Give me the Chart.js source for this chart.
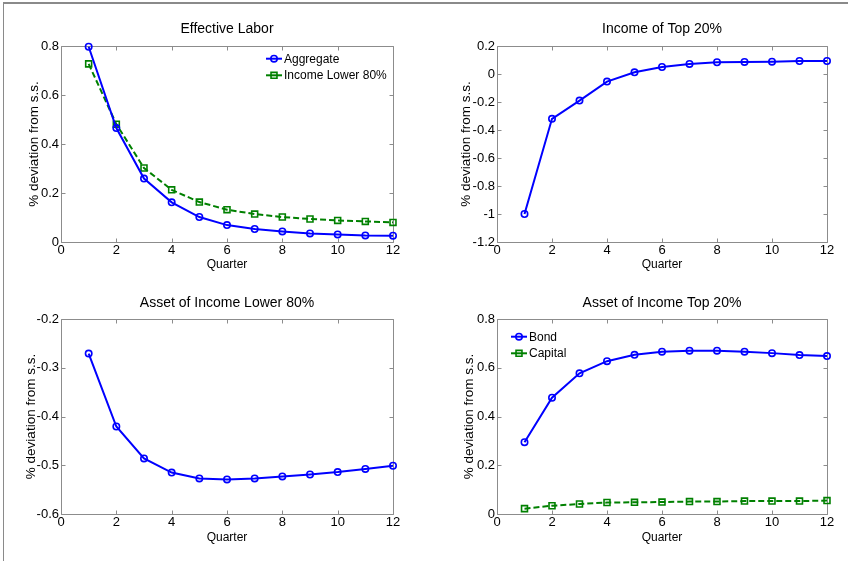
<!DOCTYPE html>
<html><head><meta charset="utf-8">
<script src="https://cdn.jsdelivr.net/npm/chart.js@4.4.1/dist/chart.umd.min.js"></script>
<style>
html,body{margin:0;padding:0;background:#fff;}
#wrap{position:relative;width:848px;height:561px;overflow:hidden;background:#fff;}
#frame{position:absolute;left:3px;top:2px;right:-5px;bottom:-5px;border-top:2px solid #8a8a8a;border-left:1px solid #8a8a8a;}
canvas{position:absolute;}
</style></head><body>
<div id="wrap"><div id="frame"></div>
<canvas id="c1" width="424" height="280" style="left:0;top:0"></canvas>
<canvas id="c2" width="424" height="280" style="left:424px;top:0"></canvas>
<canvas id="c3" width="424" height="281" style="left:0;top:280px"></canvas>
<canvas id="c4" width="424" height="281" style="left:424px;top:280px"></canvas>
</div>
<script>
// ---- data ----
const quarters = [1,2,3,4,5,6,7,8,9,10,11,12];
const laborAggregate = [0.797,0.465,0.259,0.162,0.102,0.069,0.053,0.043,0.035,0.031,0.027,0.026];
const laborLower80 = [0.727,0.481,0.302,0.213,0.163,0.132,0.114,0.102,0.094,0.088,0.084,0.080];
const incomeTop20 = [-1.0,-0.32,-0.19,-0.054,0.012,0.05,0.072,0.084,0.086,0.088,0.093,0.093];
const assetLower80 = [-0.271,-0.4205,-0.486,-0.515,-0.527,-0.529,-0.527,-0.523,-0.519,-0.514,-0.5075,-0.501];
const bondTop20 = [0.2945,0.477,0.577,0.627,0.653,0.666,0.670,0.670,0.666,0.660,0.652,0.648];
const capitalTop20 = [0.022,0.034,0.041,0.047,0.048,0.049,0.051,0.051,0.053,0.053,0.053,0.055];
const xTicks = [0,12,2];            // min, max, step
const yTicksLabor = [0,0.8,0.2];
const yTicksIncome = [-1.2,0.2,0.2];
const yTicksAssetLower = [-0.6,-0.2,0.1];
const yTicksAssetTop = [0,0.8,0.2];
const titles = ['Effective Labor','Income of Top 20%','Asset of Income Lower 80%','Asset of Income Top 20%'];
const xAxisLabel = 'Quarter';
const yAxisLabel = '% deviation from s.s.';

const FONT = '"Liberation Sans", Arial, Helvetica, sans-serif';
Chart.defaults.color = '#000';
Chart.defaults.font.family = FONT;

const BLUE = '#0000ff', GREEN = '#008000';

function pts(ys){ return quarters.map((q,i)=>({x:q,y:ys[i]})); }

function blueSeries(label, ys){
  return {label, data: pts(ys), borderColor: BLUE, borderWidth: 2, pointStyle:'circle',
    pointRadius: 3.2, pointBorderWidth: 1.6, pointBorderColor: BLUE, pointBackgroundColor:'rgba(0,0,0,0)',
    tension:0, clip:false};
}
function greenSeries(label, ys){
  return {label, data: pts(ys), borderColor: GREEN, borderWidth: 2, borderDash:[6,3], pointStyle:'rect',
    pointRadius: 4.2, pointBorderWidth: 1.6, pointBorderColor: GREEN, pointBackgroundColor:'rgba(0,0,0,0)',
    tension:0, clip:false};
}

function fmt(v){ const r = Math.round(v*100)/100; return (Math.abs(r)<1e-9) ? '0' : String(r); }

const matlabAxes = {
  id:'matlabAxes',
  beforeDatasetsDraw(chart){
    const {ctx, chartArea:a, scales:{x,y}} = chart;
    ctx.save();
    ctx.strokeStyle = '#8c8c8c'; ctx.lineWidth = 1; ctx.setLineDash([]);
    const l = Math.round(a.left)+0.5, t = Math.round(a.top)+0.5, r = Math.round(a.right)+0.5, b = Math.round(a.bottom)+0.5;
    ctx.beginPath();
    ctx.rect(l, t, r-l, b-t);
    const L = 4;
    x.ticks.forEach(tk=>{ const px = Math.round(x.getPixelForValue(tk.value))+0.5;
      ctx.moveTo(px,b); ctx.lineTo(px,b-L); ctx.moveTo(px,t); ctx.lineTo(px,t+L); });
    y.ticks.forEach(tk=>{ const py = Math.round(y.getPixelForValue(tk.value))+0.5;
      ctx.moveTo(l,py); ctx.lineTo(l+L,py); ctx.moveTo(r,py); ctx.lineTo(r-L,py); });
    ctx.stroke();
    ctx.restore();
  }
};

const insetLegend = {
  id:'insetLegend',
  afterDatasetsDraw(chart, args, opts){
    if(!opts || !opts.show) return;
    const {ctx, chartArea:a} = chart;
    chart.data.datasets.forEach((ds,i)=>{
      const y0 = a.top + opts.top + i*opts.rowGap;
      const x0 = a.left + opts.left, x1 = x0 + opts.lineLen, xm = (x0+x1)/2;
      ctx.save();
      ctx.strokeStyle = ds.borderColor; ctx.lineWidth = ds.borderWidth; ctx.setLineDash([]);
      ctx.beginPath(); ctx.moveTo(x0,y0); ctx.lineTo(x1,y0); ctx.stroke();
      ctx.lineWidth = ds.pointBorderWidth;
      ctx.beginPath();
      if(ds.pointStyle==='rect'){ const s = ds.pointRadius*Math.SQRT1_2; ctx.rect(xm-s,y0-s,2*s,2*s); }
      else { ctx.arc(xm,y0,ds.pointRadius,0,Math.PI*2); }
      ctx.stroke();
      ctx.fillStyle = '#000'; ctx.font = '12px '+FONT; ctx.textBaseline='middle'; ctx.textAlign='left';
      ctx.fillText(ds.label, x1+2, y0+0.5);
      ctx.restore();
    });
  }
};

function makeChart(id, title, datasets, yT, L, legend){
  const W = L.W, H = L.H;
  const titleFont = 14, tLH = titleFont*1.2;
  const ylFont = 13.5, xlFont = 12;
  new Chart(document.getElementById(id), {
    type:'line',
    data:{datasets},
    plugins:[matlabAxes, insetLegend],
    options:{
      responsive:false, animation:false, devicePixelRatio:1,
      layout:{padding:{left:0,top:0,bottom:0,right: W - L.right}},
      plugins:{
        legend:{display:false}, tooltip:{enabled:false},
        title:{display:true, text:title, fullSize:false, color:'#000',
          font:{size:titleFont, weight:'normal', family:FONT, lineHeight:1.2},
          padding:{top: L.titleCY - tLH/2, bottom: L.top - L.titleCY - tLH/2}},
        insetLegend: legend || {show:false}
      },
      scales:{
        x:{type:'linear', min:xTicks[0], max:xTicks[1],
          ticks:{stepSize:xTicks[2], padding:1, color:'#000', font:{size:13, family:FONT}, maxRotation:0, autoSkip:false, callback:v=>fmt(v)},
          grid:{display:false, drawTicks:false}, border:{display:false},
          title:{display:true, text:xAxisLabel, color:'#000', font:{size:xlFont, family:FONT, lineHeight:1.2},
            padding:{top:0, bottom: H - L.xlabelCY - xlFont*0.6}},
          afterFit(s){ s.height = H - L.bottom; s.paddingLeft = 0; s.paddingRight = 0; }
        },
        y:{type:'linear', min:yT[0], max:yT[1],
          ticks:{stepSize:yT[2], padding:2, color:'#000', font:{size:13, family:FONT}, autoSkip:false, callback:v=>fmt(v)},
          grid:{display:false, drawTicks:false}, border:{display:false},
          title:{display:true, text:yAxisLabel, color:'#000', font:{size:ylFont, family:FONT, lineHeight:1.2},
            padding:{top: L.ylabelCX - ylFont*0.6, bottom:0}},
          afterFit(s){ s.width = L.left; s.paddingTop = 0; s.paddingBottom = 0; }
        }
      }
    }
  });
}

makeChart('c1', titles[0],
  [blueSeries('Aggregate', laborAggregate), greenSeries('Income Lower 80%', laborLower80)],
  yTicksLabor, {W:424,H:280,left:61,right:393,top:46,bottom:242,titleCY:29,ylabelCX:34,xlabelCY:265},
  {show:true, left:205, top:12.7, rowGap:16.6, lineLen:16});
makeChart('c2', titles[1],
  [blueSeries('Income of Top 20%', incomeTop20)],
  yTicksIncome, {W:424,H:280,left:73,right:403,top:46,bottom:242,titleCY:29,ylabelCX:42,xlabelCY:265});
makeChart('c3', titles[2],
  [blueSeries('Asset of Income Lower 80%', assetLower80)],
  yTicksAssetLower, {W:424,H:281,left:61,right:393,top:39,bottom:234,titleCY:23,ylabelCX:31,xlabelCY:258});
makeChart('c4', titles[3],
  [blueSeries('Bond', bondTop20), greenSeries('Capital', capitalTop20)],
  yTicksAssetTop, {W:424,H:281,left:73,right:403,top:39,bottom:234,titleCY:23.5,ylabelCX:45,xlabelCY:258},
  {show:true, left:14, top:17.7, rowGap:16.6, lineLen:16});
</script>
</body></html>
